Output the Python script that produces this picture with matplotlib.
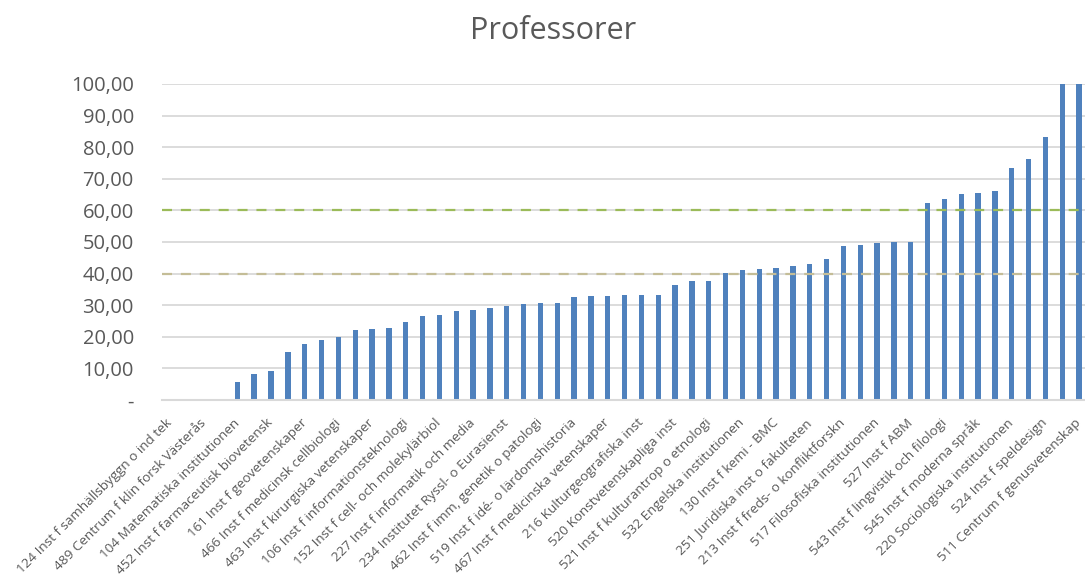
import matplotlib
matplotlib.use("Agg")
import matplotlib.pyplot as plt
from matplotlib.ticker import FuncFormatter, FixedLocator

title = "Professorer"

# Only every other category is labelled in the original chart
shown_labels = [
    "124 Inst f samhällsbyggn o ind tek",
    "489 Centrum f klin forsk Västerås",
    "104 Matematiska institutionen",
    "452 Inst f farmaceutisk biovetensk",
    "161 Inst f geovetenskaper",
    "466 Inst f medicinsk cellbiologi",
    "463 Inst f kirurgiska vetenskaper",
    "106 Inst f informationsteknologi",
    "152 Inst f cell- och molekylärbiol",
    "227 Inst f informatik och media",
    "234 Institutet Ryssl- o Eurasienst",
    "462 Inst f imm, genetik o patologi",
    "519 Inst f idé- o lärdomshistoria",
    "467 Inst f medicinska vetenskaper",
    "216 Kulturgeografiska inst",
    "520 Konstvetenskapliga inst",
    "521 Inst f kulturantrop o etnologi",
    "532 Engelska institutionen",
    "130 Inst f kemi - BMC",
    "251 Juridiska inst o fakulteten",
    "213 Inst f freds- o konfliktforskn",
    "517 Filosofiska institutionen",
    "527 Inst f ABM",
    "543 Inst f lingvistik och filologi",
    "545 Inst f moderna språk",
    "220 Sociologiska institutionen",
    "524 Inst f speldesign",
    "511 Centrum f genusvetenskap",
]

values = [
    0, 0, 0, 0, 5.6, 8.2, 9.2, 15.2, 17.7, 18.9,
    19.8, 22.2, 22.4, 22.7, 24.6, 26.6, 26.9, 28.2, 28.6, 29.2,
    29.9, 30.4, 30.7, 30.7, 32.6, 32.8, 32.9, 33.1, 33.3, 33.3,
    36.4, 37.6, 37.6, 40.1, 41.2, 41.5, 41.7, 42.4, 42.9, 44.6,
    48.8, 49.2, 49.7, 50.0, 50.0, 62.4, 63.5, 65.1, 65.5, 66.0,
    73.4, 76.2, 83.2, 100.0, 100.0,
]

ref_high = 60
ref_low = 40
y_ticks = [0, 10, 20, 30, 40, 50, 60, 70, 80, 90, 100]

FONT = ["Open Sans", "DejaVu Sans"]
TXT = "#595959"

plt.rcParams["font.family"] = FONT

W, H = 1085, 574
fig = plt.figure(figsize=(W / 100, H / 100), dpi=100)
ax = fig.add_axes([161.6 / W, (H - 400) / H, (W - 161.6) / W, (400 - 84) / H])

x = list(range(len(values)))
ax.bar(x, values, width=0.32, color="#4F81BD", zorder=3)

ax.axhline(ref_high, color="#9BBB59", lw=1.6, dashes=(4.5, 4.0), zorder=4)
ax.axhline(ref_low, color="#C4BD97", lw=1.6, dashes=(4.5, 4.0), zorder=4)

ax.set_xlim(-0.5, len(values) - 1 + 0.35)
ax.set_ylim(0, 100)
ax.set_yticks(y_ticks)
ax.yaxis.set_major_formatter(FuncFormatter(
    lambda v, p: "-" if v == 0 else f"{v:.2f}".replace(".", ",")))
ax.yaxis.grid(True, color="#D9D9D9", lw=1.3, zorder=0)
ax.set_axisbelow(True)

label_pos = x[::2]
ax.xaxis.set_major_locator(FixedLocator(label_pos))
ax.set_xticklabels(shown_labels, rotation=45, ha="right", va="center",
                   rotation_mode="anchor", fontsize=9.7, color=TXT)

ax.tick_params(axis="both", length=0)
ax.tick_params(axis="y", labelsize=14.5, labelcolor=TXT, pad=20)
ax.tick_params(axis="x", pad=15)

for s in ["top", "right", "left"]:
    ax.spines[s].set_visible(False)
ax.spines["bottom"].set_color("#D9D9D9")
ax.spines["bottom"].set_linewidth(1.5)
ax.spines["bottom"].set_zorder(5)

fig.text(553 / W, 1 - 31 / H, title, ha="center", va="center",
         fontsize=22, color=TXT)

fig.savefig("out.png", dpi=100)
